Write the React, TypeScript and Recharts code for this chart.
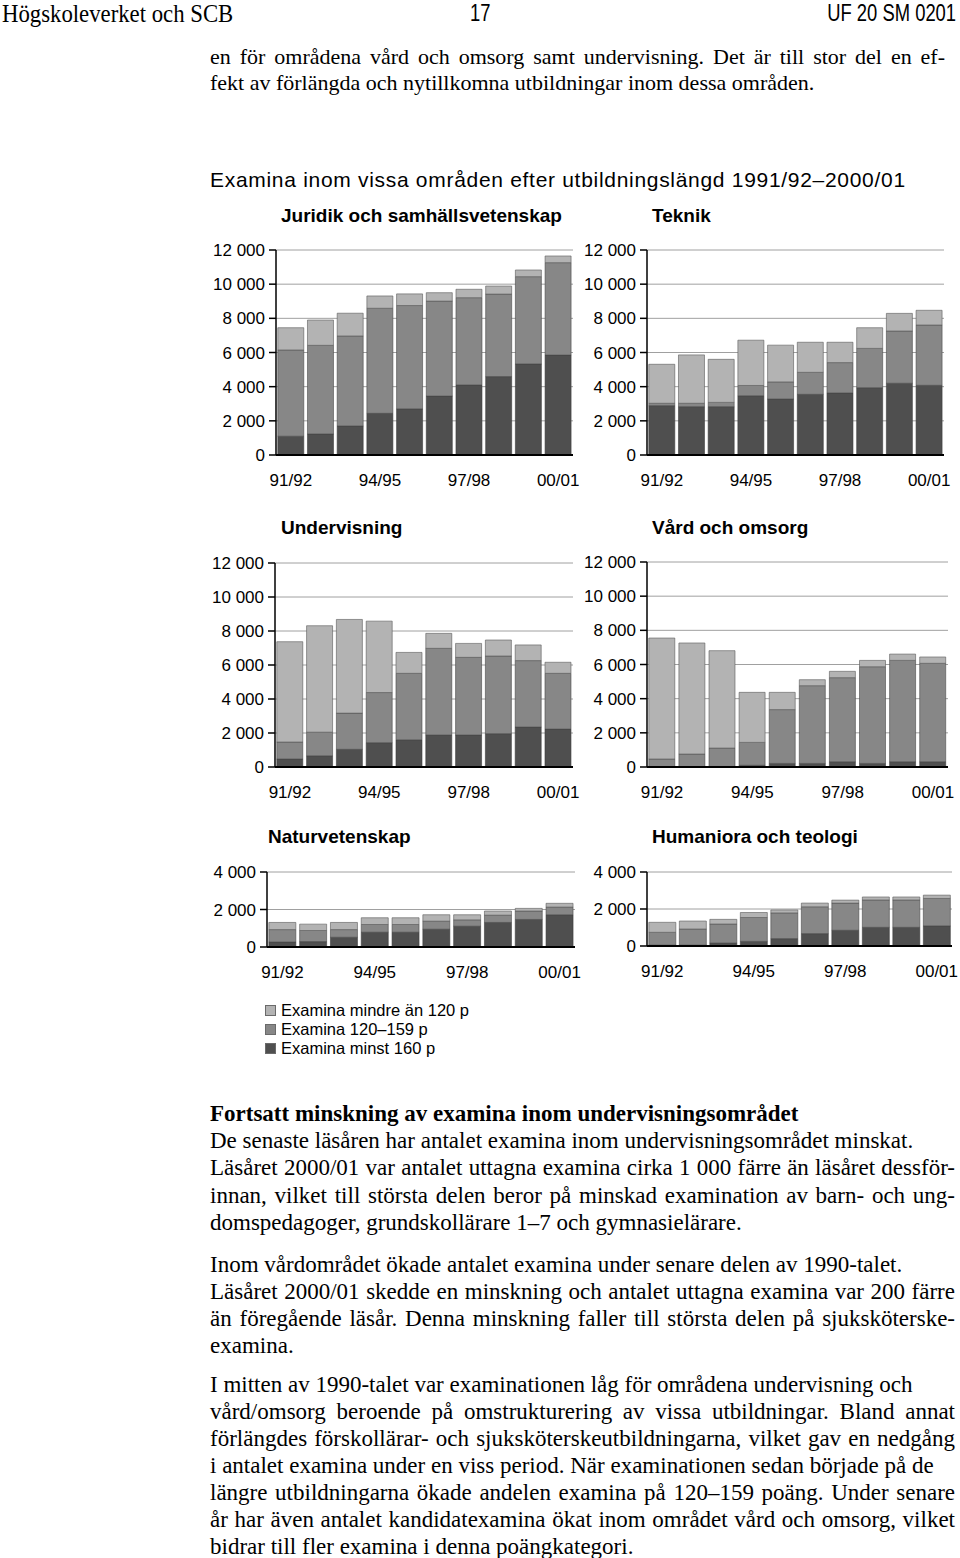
import React from "react";
import { BarChart, Bar, XAxis, YAxis, CartesianGrid } from "recharts";

const years = ["91/92", "92/93", "93/94", "94/95", "95/96", "96/97", "97/98", "98/99", "99/00", "00/01"];

const seriesNames = ["Examina mindre än 120 p", "Examina 120–159 p", "Examina minst 160 p"];
const seriesColors = ["#b3b3b3", "#878787", "#4f4f4f"];

// Juridik och samhällsvetenskap
const juridikMinst160 = [1100, 1230, 1700, 2440, 2700, 3450, 4100, 4590, 5330, 5850];
const juridik120_159 = [5050, 5190, 5270, 6150, 6050, 5560, 5110, 4830, 5110, 5410];
const juridikUnder120 = [1300, 1480, 1330, 720, 680, 490, 490, 470, 390, 390];

// Teknik
const teknikMinst160 = [2890, 2830, 2830, 3470, 3280, 3550, 3630, 3940, 4200, 4080];
const teknik120_159 = [140, 200, 250, 600, 1000, 1290, 1780, 2300, 3060, 3530];
const teknikUnder120 = [2280, 2830, 2520, 2650, 2150, 1760, 1190, 1210, 1030, 860];

// Undervisning
const undervMinst160 = [470, 660, 1040, 1430, 1600, 1880, 1880, 1960, 2350, 2230];
const underv120_159 = [1000, 1390, 2130, 2950, 3910, 5100, 4570, 4570, 3910, 3280];
const undervUnder120 = [5900, 6260, 5510, 4200, 1230, 880, 820, 940, 920, 650];

// Vård och omsorg
const vardMinst160 = [20, 20, 30, 100, 210, 210, 310, 210, 310, 310];
const vard120_159 = [450, 740, 1080, 1340, 3150, 4550, 4920, 5660, 5930, 5760];
const vardUnder120 = [7080, 6500, 5700, 2930, 1010, 350, 370, 370, 370, 370];

// Naturvetenskap
const naturMinst160 = [270, 290, 520, 790, 790, 950, 1110, 1310, 1470, 1720];
const natur120_159 = [660, 590, 410, 410, 410, 430, 340, 390, 450, 410];
const naturUnder120 = [380, 340, 380, 360, 360, 340, 270, 220, 140, 200];

// Humaniora och teologi
const humMinst160 = [50, 50, 160, 250, 400, 670, 850, 1010, 1010, 1090];
const hum120_159 = [690, 870, 1030, 1290, 1390, 1450, 1470, 1480, 1480, 1480];
const humUnder120 = [540, 430, 250, 270, 160, 200, 160, 160, 160, 180];

const bigTicks = [0, 2000, 4000, 6000, 8000, 10000, 12000];
const smallTicks = [0, 2000, 4000];

const SANS = "'Liberation Sans', Arial, Helvetica, sans-serif";
const SERIF = "'Liberation Serif', 'Times New Roman', serif";

const fmt = (v: number) => (v === 0 ? "0" : `${v / 1000} 000`);

type PanelProps = {
  minst: number[];
  mid: number[];
  under: number[];
  max: number;
  ticks: number[];
  left: number;
  right: number;
  top: number;
  bottom: number;
};

function Panel({ minst, mid, under, max, ticks, left, right, top, bottom }: PanelProps) {
  const data = years.map((year, i) => ({ year, minst: minst[i], mid: mid[i], under: under[i] }));
  const YW = 70;
  const MT = 8;
  const MR = 8;
  const XH = 40;
  const width = right - left + YW + MR;
  const height = bottom - top + MT + XH;
  const tickStyle = { fill: "#000", fontSize: 17, fontFamily: SANS };
  return (
    <div style={{ position: "absolute", left: left - YW, top: top - MT }}>
      <BarChart
        width={width}
        height={height}
        data={data}
        margin={{ top: MT, right: MR, bottom: 0, left: 0 }}
        barCategoryGap="6%"
      >
        <CartesianGrid vertical={false} stroke="#a0a0a0" strokeWidth={1} />
        <XAxis
          dataKey="year"
          interval={2}
          tickLine={false}
          tickSize={6}
          tickMargin={13}
          height={XH}
          axisLine={{ stroke: "#000", strokeWidth: 2 }}
          tick={tickStyle}
        />
        <YAxis
          domain={[0, max]}
          ticks={ticks}
          width={YW}
          tickFormatter={fmt}
          tickSize={7}
          tickMargin={4}
          axisLine={{ stroke: "#000", strokeWidth: 1.5 }}
          tickLine={{ stroke: "#000", strokeWidth: 1.5 }}
          tick={tickStyle}
          interval={0}
        />
        <YAxis
          yAxisId="r"
          orientation="right"
          width={0}
          tick={false}
          tickLine={false}
          axisLine={{ stroke: "#a0a0a0" }}
        />
        <Bar dataKey="minst" stackId="s" fill={seriesColors[2]} stroke="#3a3a3a" strokeWidth={0.6} isAnimationActive={false} />
        <Bar dataKey="mid" stackId="s" fill={seriesColors[1]} stroke="#4a4a4a" strokeWidth={0.6} isAnimationActive={false} />
        <Bar dataKey="under" stackId="s" fill={seriesColors[0]} stroke="#5a5a5a" strokeWidth={0.6} isAnimationActive={false} />
      </BarChart>
    </div>
  );
}

function Txt({ x, cy, size, children, bold, lh, ls }: any) {
  const h = lh || Math.round(size * 1.3);
  return (
    <div
      style={{
        position: "absolute",
        left: x,
        top: cy - h / 2,
        lineHeight: `${h}px`,
        fontSize: size,
        fontFamily: SANS,
        fontWeight: bold ? "bold" : "normal",
        letterSpacing: ls || 0,
        whiteSpace: "nowrap",
        color: "#000",
      }}
    >
      {children}
    </div>
  );
}

function Line({ cy, text, justify, bold, size = 23, width = 745 }: { cy: number; text: string; justify?: boolean; bold?: boolean; size?: number; width?: number }) {
  return (
    <div
      style={{
        position: "absolute",
        left: 210,
        width,
        top: cy - 13.5,
        lineHeight: "27px",
        fontSize: size,
        fontFamily: SERIF,
        fontWeight: bold ? "bold" : "normal",
        whiteSpace: "nowrap",
        textAlign: justify ? "justify" : "left",
        textAlignLast: justify ? "justify" : "left",
        color: "#000",
      }}
    >
      {text}
    </div>
  );
}

export default function App() {
  return (
    <div style={{ position: "absolute", left: 0, top: 0, width: 960, height: 1558, background: "#fff", overflow: "hidden" }}>
      <div style={{ position: "absolute", left: 2, top: 0, fontFamily: SERIF, fontSize: 25, lineHeight: "27px", transform: "scaleX(0.91)", transformOrigin: "left top", whiteSpace: "nowrap" }}>
        Högskoleverket och SCB
      </div>
      <div style={{ position: "absolute", left: 470, top: 0, fontFamily: SANS, fontSize: 23, lineHeight: "27px", transform: "scaleX(0.8)", transformOrigin: "left top" }}>
        17
      </div>
      <div style={{ position: "absolute", right: 4, top: 0, fontFamily: SANS, fontSize: 23, lineHeight: "27px", transform: "scaleX(0.8)", transformOrigin: "right top", whiteSpace: "nowrap" }}>
        UF 20 SM 0201
      </div>

      <Line cy={56} size={22} width={735} justify text="en för områdena vård och omsorg samt undervisning. Det är till stor del en ef-" />
      <Line cy={82} size={22} text="fekt av förlängda och nytillkomna utbildningar inom dessa områden." />

      <Txt x={210} cy={179} size={21} ls={0.7}>Examina inom vissa områden efter utbildningslängd 1991/92–2000/01</Txt>

      <Txt x={281} cy={215} size={19} bold>Juridik och samhällsvetenskap</Txt>
      <Txt x={652} cy={215} size={19} bold>Teknik</Txt>
      <Txt x={281} cy={527} size={19} bold>Undervisning</Txt>
      <Txt x={652} cy={527} size={19} bold>Vård och omsorg</Txt>
      <Txt x={268} cy={836} size={19} bold>Naturvetenskap</Txt>
      <Txt x={652} cy={836} size={19} bold>Humaniora och teologi</Txt>

      <Panel minst={juridikMinst160} mid={juridik120_159} under={juridikUnder120} max={12000} ticks={bigTicks} left={276} right={573} top={250} bottom={455} />
      <Panel minst={teknikMinst160} mid={teknik120_159} under={teknikUnder120} max={12000} ticks={bigTicks} left={647} right={944} top={250} bottom={455} />
      <Panel minst={undervMinst160} mid={underv120_159} under={undervUnder120} max={12000} ticks={bigTicks} left={275} right={573} top={563} bottom={767} />
      <Panel minst={vardMinst160} mid={vard120_159} under={vardUnder120} max={12000} ticks={bigTicks} left={647} right={948} top={562} bottom={767} />
      <Panel minst={naturMinst160} mid={natur120_159} under={naturUnder120} max={4000} ticks={smallTicks} left={267} right={575} top={872} bottom={947} />
      <Panel minst={humMinst160} mid={hum120_159} under={humUnder120} max={4000} ticks={smallTicks} left={647} right={952} top={872} bottom={946} />

      {seriesNames.map((name, i) => (
        <div key={name}>
          <div style={{ position: "absolute", left: 265, top: 1010 + i * 19 - 5, width: 9, height: 9, background: seriesColors[i], border: "1px solid #6a6a6a" }} />
          <Txt x={281} cy={1010 + i * 19} size={16.5} lh={19}>{name}</Txt>
        </div>
      ))}

      <Line cy={1113} bold text="Fortsatt minskning av examina inom undervisningsområdet" />
      <Line cy={1140} text="De senaste läsåren har antalet examina inom undervisningsområdet minskat." />
      <Line cy={1167} justify text="Läsåret 2000/01 var antalet uttagna examina cirka 1 000 färre än läsåret dessför-" />
      <Line cy={1195} justify text="innan, vilket till största delen beror på minskad examination av barn- och ung-" />
      <Line cy={1222} text="domspedagoger, grundskollärare 1–7 och gymnasielärare." />

      <Line cy={1264} text="Inom vårdområdet ökade antalet examina under senare delen av 1990-talet." />
      <Line cy={1291} justify text="Läsåret 2000/01 skedde en minskning och antalet uttagna examina var 200 färre" />
      <Line cy={1318} justify text="än föregående läsår. Denna minskning faller till största delen på sjuksköterske-" />
      <Line cy={1345} text="examina." />

      <Line cy={1384} text="I mitten av 1990-talet var examinationen låg för områdena undervisning och" />
      <Line cy={1411} justify text="vård/omsorg beroende på omstrukturering av vissa utbildningar. Bland annat" />
      <Line cy={1438} justify text="förlängdes förskollärar- och sjuksköterskeutbildningarna, vilket gav en nedgång" />
      <Line cy={1465} text="i antalet examina under en viss period. När examinationen sedan började på de" />
      <Line cy={1492} justify text="längre utbildningarna ökade andelen examina på 120–159 poäng. Under senare" />
      <Line cy={1519} justify text="år har även antalet kandidatexamina ökat inom området vård och omsorg, vilket" />
      <Line cy={1546} text="bidrar till fler examina i denna poängkategori." />
    </div>
  );
}
